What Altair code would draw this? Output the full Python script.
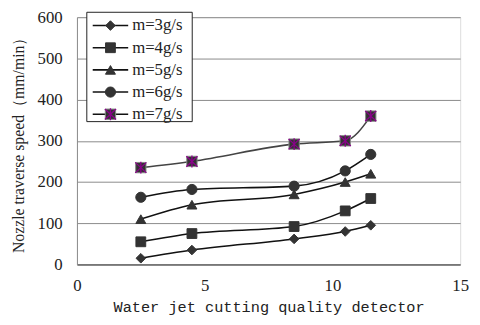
import altair as alt
import pandas as pd

x_vals = [2.5, 4.5, 8.5, 10.5, 11.5]
series = ["m=3g/s", "m=4g/s", "m=5g/s", "m=6g/s", "m=7g/s"]
m3 = [15, 35, 62, 80, 95]
m4 = [55, 75, 92, 130, 160]
m5 = [110, 145, 170, 200, 220]
m6 = [163, 182, 190, 227, 267]
m7 = [235, 250, 292, 300, 360]
x_ticks = [0, 5, 10, 15]
y_ticks = [0, 100, 200, 300, 400, 500, 600]

rows = []
for name, vals in zip(series, [m3, m4, m5, m6, m7]):
    for xv, yv in zip(x_vals, vals):
        rows.append({"series": name, "x": xv, "y": yv})
df = pd.DataFrame(rows)
leg = pd.DataFrame({"series": series, "i": list(range(len(series)))})

SERIF = "Liberation Serif"
MONO = "Liberation Mono"

shapes = ["diamond", "square", "triangle-up", "circle", "square"]
sizes = [95, 110, 120, 95, 230]
ASTER = "M0,-0.8L0,0.8M-0.75,-0.7L0.75,0.7M-0.75,0.7L0.75,-0.7"

xs = alt.Scale(domain=[0, 15], nice=False)
ys = alt.Scale(domain=[0, 600], nice=False)

X = alt.X("x:Q", scale=xs, axis=alt.Axis(
    values=x_ticks, grid=False, ticks=False, labelPadding=13,
    labelFont=SERIF, labelFontSize=17, labelColor="#222",
    domainColor="#404040", title="Water jet cutting quality detector",
    titleFont=MONO, titleFontSize=15.5, titleFontWeight="normal",
    titleColor="#222", titlePadding=7, labelFlush=False))
Y = alt.Y("y:Q", scale=ys, axis=alt.Axis(
    values=y_ticks, grid=True, gridColor="#8a8a8a", ticks=False, labelPadding=15,
    labelFont=SERIF, labelFontSize=17, labelColor="#222",
    domainColor="#8a8a8a", title="Nozzle traverse speed（mm/min）",
    titleFont=SERIF, titleFontSize=16, titleFontWeight="normal",
    titleColor="#222", titlePadding=11))

lines = alt.Chart(df).mark_line(interpolate="monotone", strokeWidth=1.6).encode(
    x=X, y=Y,
    color=alt.Color("series:N", scale=alt.Scale(domain=series,
                    range=["#111", "#111", "#111", "#111", "#444"]), legend=None),
    detail="series:N")

pts = alt.Chart(df).mark_point(filled=True, opacity=1, strokeWidth=1).encode(
    x=alt.X("x:Q", scale=xs), y=alt.Y("y:Q", scale=ys),
    shape=alt.Shape("series:N", scale=alt.Scale(domain=series, range=shapes), legend=None),
    size=alt.Size("series:N", scale=alt.Scale(domain=series, range=sizes), legend=None),
    fill=alt.value("#333"),
    stroke=alt.Color("series:N", scale=alt.Scale(domain=series,
                     range=["#333", "#333", "#333", "#333", "#888"]), legend=None))

aster = alt.Chart(df).transform_filter(alt.datum.series == series[4]).mark_point(
    shape=ASTER, size=230, stroke="#8b008b", strokeWidth=1.3, filled=False, opacity=1
).encode(x=alt.X("x:Q", scale=xs), y=alt.Y("y:Q", scale=ys))

# legend box
box = alt.Chart(pd.DataFrame({"a": [0]})).mark_rect(
    fill="white", stroke="#222", strokeWidth=1).encode(
    x=alt.value(10), x2=alt.value(117), y=alt.value(-5), y2=alt.value(106))

leg_base = alt.Chart(leg).transform_calculate(ly="8.5 + datum.i * 22.5")
leg_line = leg_base.mark_rule(color="#111", strokeWidth=1.6).encode(
    x=alt.value(16), x2=alt.value(52), y=alt.Y("ly:Q", scale=None))
leg_pts = leg_base.mark_point(filled=True, opacity=1, strokeWidth=1).encode(
    x=alt.value(34), y=alt.Y("ly:Q", scale=None),
    shape=alt.Shape("series:N", scale=alt.Scale(domain=series, range=shapes), legend=None),
    size=alt.Size("series:N", scale=alt.Scale(domain=series, range=sizes), legend=None),
    fill=alt.value("#333"),
    stroke=alt.Color("series:N", scale=alt.Scale(domain=series,
                     range=["#333", "#333", "#333", "#333", "#888"]), legend=None))
leg_aster = leg_base.transform_filter(alt.datum.series == series[4]).mark_point(
    shape=ASTER, size=230, stroke="#8b008b", strokeWidth=1.3, filled=False, opacity=1
).encode(x=alt.value(34), y=alt.Y("ly:Q", scale=None))
leg_text = leg_base.mark_text(align="left", baseline="middle", font=SERIF,
                              fontSize=17, color="#222").encode(
    x=alt.value(56), y=alt.Y("ly:Q", scale=None), text="series:N")

chart = alt.layer(lines, pts, aster, box, leg_line, leg_pts, leg_aster, leg_text).resolve_scale(
    shape="independent", size="independent", stroke="independent"
).properties(
    width=389, height=251,
    autosize=alt.AutoSizeParams(type="none"),
    padding={"left": 70, "top": 7, "right": 12, "bottom": 51},
).configure_view(stroke="#8a8a8a", strokeWidth=1).configure(background="white")

chart.save("out.html", embed_options={"renderer": "svg", "actions": False})
